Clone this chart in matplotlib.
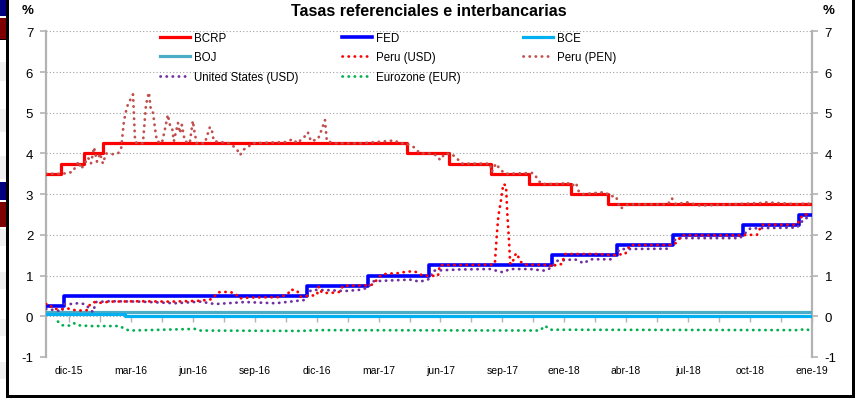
import matplotlib
matplotlib.use('Agg')
import numpy as np
import matplotlib.pyplot as plt
from matplotlib.lines import Line2D
from matplotlib.patches import Rectangle

plt.rcParams['font.family'] = ['Liberation Sans', 'DejaVu Sans']
plt.rcParams['axes.unicode_minus'] = False

# time axis: months counted from the "dic-15" tick
x_start, x_end = -1.145, 36.02
tick_labels = ['dic-15', 'mar-16', 'jun-16', 'sep-16', 'dic-16', 'mar-17', 'jun-17',
               'sep-17', 'ene-18', 'abr-18', 'jul-18', 'oct-18', 'ene-19']

# policy rates (step changes)
bcrp_t = [-1.145, -0.42, 0.73, 1.65, 16.36, 18.43, 20.45, 22.29, 24.33, 26.14, 36.02]
bcrp_v = [3.50, 3.75, 4.00, 4.25, 4.00, 3.75, 3.50, 3.25, 3.00, 2.75, 2.75]
fed_t = [-1.145, -0.26, 11.54, 14.50, 17.46, 23.39, 26.55, 29.26, 32.69, 35.40, 36.02]
fed_v = [0.25, 0.50, 0.75, 1.00, 1.25, 1.50, 1.75, 2.00, 2.25, 2.50, 2.50]
bce_t = [-1.145, 2.70, 36.02]
bce_v = [0.05, 0.00, 0.00]
boj_t = [-1.145, 36.02]
boj_v = [0.10, 0.10]

# interbank rates
pen_t = [-1.13, -0.65, -0.35, -0.06, 0.18, 0.32, 0.47, 0.57, 0.71, 0.91, 1.05, 1.20, 1.34,
         1.49, 1.63, 1.78, 2.07, 2.36, 2.51, 2.65, 2.80, 2.94, 3.09, 3.19, 3.28, 3.57, 3.72,
         3.86, 3.96, 4.06, 4.16, 4.25, 4.49, 4.64, 4.78, 4.88, 4.98, 5.07, 5.27, 5.36, 5.46,
         5.60, 5.84, 5.99, 6.08, 6.18, 6.57, 6.82, 6.92, 7.01, 7.79, 8.13, 8.28, 8.47, 8.66,
         8.86, 10.46, 10.85, 11.05, 11.39, 11.57, 11.72, 12.06, 12.25, 12.40, 12.49, 12.88,
         14.20, 15.79, 16.00, 16.34, 16.52, 16.72, 17.01, 17.49, 17.83, 17.98, 18.22, 18.56,
         18.85, 19.04, 20.40, 20.49, 20.69, 20.88, 21.13, 22.49, 22.68, 22.88, 23.89, 24.09,
         24.38, 24.57, 24.72, 24.91, 25.98, 26.22, 26.51, 26.71, 26.90, 27.09, 29.03, 29.22,
         29.42, 29.95, 30.58, 33.49, 33.73, 35.43, 35.72, 36.02]
pen_v = [3.50, 3.50, 3.50, 3.52, 3.55, 3.70, 3.80, 3.62, 3.72, 3.90, 3.75, 4.15, 3.80,
         4.00, 3.75, 4.00, 3.98, 4.00, 4.10, 4.80, 5.15, 5.30, 5.45, 4.30, 4.25, 4.25, 5.20,
         5.50, 5.05, 5.00, 4.60, 4.30, 4.25, 4.60, 4.95, 4.70, 4.65, 4.30, 4.75, 4.50, 4.70,
         4.30, 4.25, 4.80, 4.50, 4.25, 4.25, 4.65, 4.55, 4.30, 4.25, 4.10, 3.96, 4.10, 4.15,
         4.25, 4.28, 4.35, 4.25, 4.40, 4.52, 4.30, 4.35, 4.60, 4.82, 4.30, 4.25,
         4.25, 4.32, 4.25, 4.25, 4.20, 4.15, 4.00, 4.00, 3.95, 3.84, 4.00, 3.98,
         3.85, 3.75, 3.75, 3.55, 3.75, 3.62, 3.50, 3.52, 3.40, 3.25, 3.25, 3.30,
         3.20, 3.28, 3.05, 3.00, 3.05, 2.95, 2.95, 2.65, 2.68, 2.75, 2.75, 2.90,
         2.75, 2.80, 2.72, 2.78, 2.80, 2.75, 2.78, 2.75]

usd_t = [-1.13, -0.98, -0.79, -0.45, -0.06, 0.28, 0.66, 0.86, 0.96, 1.15, 1.49, 1.97, 3.43,
         4.89, 6.34, 6.92, 7.21, 7.70, 8.04, 8.23, 8.76, 10.22, 10.61, 10.71, 11.05, 11.19,
         11.57, 12.01, 12.10, 12.25, 12.64, 13.12, 13.27, 14.43, 14.72, 14.97, 15.16, 15.55,
         15.94, 16.42, 16.76, 17.15, 17.88, 17.97, 19.43, 20.54, 20.64, 20.73, 20.81, 20.92,
         21.05, 21.18, 21.24, 21.29, 21.34, 21.38, 21.47, 21.61, 21.71, 21.85, 22.05, 23.31,
         23.39, 23.65, 23.89, 24.04, 25.73, 26.31, 26.70, 26.95, 27.19, 29.22, 29.42, 29.71,
         32.52, 32.91, 33.35, 33.59, 35.29, 35.58, 36.02]
usd_v = [0.30, 0.30, 0.19, 0.17, 0.19, 0.15, 0.14, 0.15, 0.26, 0.35, 0.33, 0.36, 0.37,
         0.36, 0.38, 0.42, 0.59, 0.60, 0.57, 0.44, 0.46, 0.47, 0.55, 0.66, 0.63, 0.48,
         0.50, 0.52, 0.73, 0.58, 0.57, 0.60, 0.75, 0.76, 0.78, 0.93, 1.03, 1.05,
         1.06, 1.10, 1.10, 1.00, 0.99, 1.26, 1.26, 1.27, 1.30, 1.98, 2.47, 2.80,
         3.25, 3.21, 2.55, 2.14, 1.73, 1.30, 1.28, 1.50, 1.55, 1.36, 1.27, 1.26,
         1.20, 1.28, 1.28, 1.53, 1.53, 1.50, 1.52, 1.52, 1.75, 1.75, 1.80, 1.99,
         1.99, 2.00, 2.00, 2.25, 2.25, 2.50, 2.50]

us_t = [-1.13, -0.69, -0.35, -0.26, 0.03, 0.42, 0.76, 1.15, 1.29, 1.97, 3.43, 5.13, 6.34,
        7.07, 8.52, 10.00, 11.42, 11.62, 11.77, 12.64, 13.37, 14.09, 14.47, 14.72, 15.55,
        16.52, 17.01, 17.49, 17.64, 18.94, 20.40, 21.03, 21.37, 22.34, 23.07, 23.40, 23.60,
        24.52, 24.96, 25.25, 26.31, 26.70, 28.98, 29.46, 32.52, 33.03, 35.29, 35.67, 36.02]
us_v = [0.18, 0.15, 0.12, 0.30, 0.30, 0.32, 0.30, 0.10, 0.35, 0.37, 0.36, 0.32, 0.36,
        0.30, 0.35, 0.32, 0.40, 0.60, 0.65, 0.64, 0.62, 0.65, 0.70, 0.86, 0.88,
        0.90, 0.85, 0.92, 1.12, 1.15, 1.16, 1.08, 1.16, 1.16, 1.12, 1.20, 1.36,
        1.40, 1.30, 1.40, 1.40, 1.65, 1.66, 1.92, 1.92, 2.16, 2.18, 2.41, 2.42]

eur_t = [-0.55, -0.35, 0.03, 0.23, 0.37, 1.01, 2.46, 2.70, 2.94, 6.08, 6.34, 11.19, 12.16,
         22.83, 23.07, 23.31, 35.43, 35.67, 36.02]
eur_v = [-0.13, -0.22, -0.23, -0.17, -0.22, -0.24, -0.24, -0.32, -0.35, -0.31, -0.35,
         -0.36, -0.34, -0.35, -0.23, -0.33, -0.34, -0.31, -0.36]

W, H = 859, 414
fig = plt.figure(figsize=(W / 100, H / 100), dpi=100)
ax = fig.add_axes([45.7 / W, 1 - 358 / H, (812 - 45.7) / W, (358 - 32.3) / H])

grey = '#B3B3B3'
dots = dict(ls=(0, (0.1, 2.1)), lw=2.0, dash_capstyle='round')

h_bcrp, = ax.plot(bcrp_t, bcrp_v, color='#FF0000', lw=2.3, drawstyle='steps-post', label='BCRP', zorder=3)
h_fed, = ax.plot(fed_t, fed_v, color='#0000FF', lw=2.6, drawstyle='steps-post', label='FED', zorder=3)
h_boj, = ax.plot(boj_t, boj_v, color='#4BACC6', lw=2.3, drawstyle='steps-post', label='BOJ', zorder=3)
h_bce, = ax.plot(bce_t, bce_v, color='#00B0F0', lw=2.3, drawstyle='steps-post', label='BCE', zorder=3)
h_pen, = ax.plot(pen_t, pen_v, color='#C0504D', label='Peru (PEN)', zorder=4, **dots)
h_us, = ax.plot(us_t, us_v, color='#7030A0', label='United States (USD)', zorder=4, **dots)
h_usd, = ax.plot(usd_t, usd_v, color='#FF0000', label='Peru (USD)', zorder=5, **dots)
h_eur, = ax.plot(eur_t, eur_v, color='#00B050', label='Eurozone (EUR)', zorder=4, **dots)

ax.set_xlim(x_start, x_end)
ax.set_ylim(-1, 7)
ax.set_yticks(range(-1, 8))
ax.set_xticks(np.arange(0, 37, 3))
ax.set_xticklabels(tick_labels, fontsize=7.5)
ax.tick_params(axis='x', length=0, pad=6)
ax.tick_params(axis='y', labelsize=9.5, direction='out', length=4, color=grey, width=1.2,
               left=True, right=True, labelleft=True, labelright=True, pad=5)
for s in ['top', 'bottom']:
    ax.spines[s].set_visible(False)
for s in ['left', 'right']:
    ax.spines[s].set_color(grey)
    ax.spines[s].set_linewidth(1.6)
ax.yaxis.grid(True, color='#A0A0A0', lw=0.8, ls=(0, (1, 2)))
ax.set_axisbelow(True)

# category axis crossing at 0, with marks every 1.5 months
sec = ax.secondary_xaxis(1 / 8)
sec.set_xticks(np.arange(0, 36.1, 1.5))
sec.tick_params(direction='out', length=4, color=grey, width=1.0, labelbottom=False)
sec.spines['bottom'].set_visible(False)

# legend in three fixed columns
cols = [([h_bcrp, h_boj, h_us], 160), ([h_fed, h_usd, h_eur], 341.7), ([h_bce, h_pen], 523)]
for hs, px in cols:
    fig.legend(handles=hs, loc='upper left', bbox_to_anchor=(px / W, 1 - 33 / H),
               frameon=False, fontsize=8.3, handlelength=2.6, handletextpad=0.35,
               borderpad=0, borderaxespad=0, labelspacing=0.64)

fig.text(428.8 / W, 1 - 11 / H, 'Tasas referenciales e interbancarias', ha='center', va='center',
         fontsize=11.5, fontweight='bold')
fig.text(27.5 / W, 1 - 11 / H, '%', ha='center', va='center', fontsize=9.5, fontweight='bold')
fig.text(829 / W, 1 - 11 / H, '%', ha='center', va='center', fontsize=9.5, fontweight='bold')

# spreadsheet frame and left-side cell fragments
def px_rect(x0, y0, x1, y1, color):
    fig.add_artist(Rectangle((x0 / W, 1 - y1 / H), (x1 - x0) / W, (y1 - y0) / H,
                             transform=fig.transFigure, color=color, lw=0, zorder=0))

for y0, y1 in [(63, 82), (110, 133), (157, 180), (230, 247), (273, 290), (320, 337), (363, 380)]:
    px_rect(0, y0, 6, y1, '#F0F0F0')
px_rect(0, 0, 6, 17, '#000080')
px_rect(0, 18.5, 6, 39.5, '#7F0000')
px_rect(0, 39.5, 6, 40.5, '#000000')
px_rect(0, 183, 6, 201, '#000080')
px_rect(0, 203, 6, 228, '#7F0000')
px_rect(6, 0, 8.5, 398, '#000000')
px_rect(6, 396, 855, 398.5, '#000000')
px_rect(852, 0, 854.5, 398.5, '#000000')

fig.savefig('out.png', dpi=100)
